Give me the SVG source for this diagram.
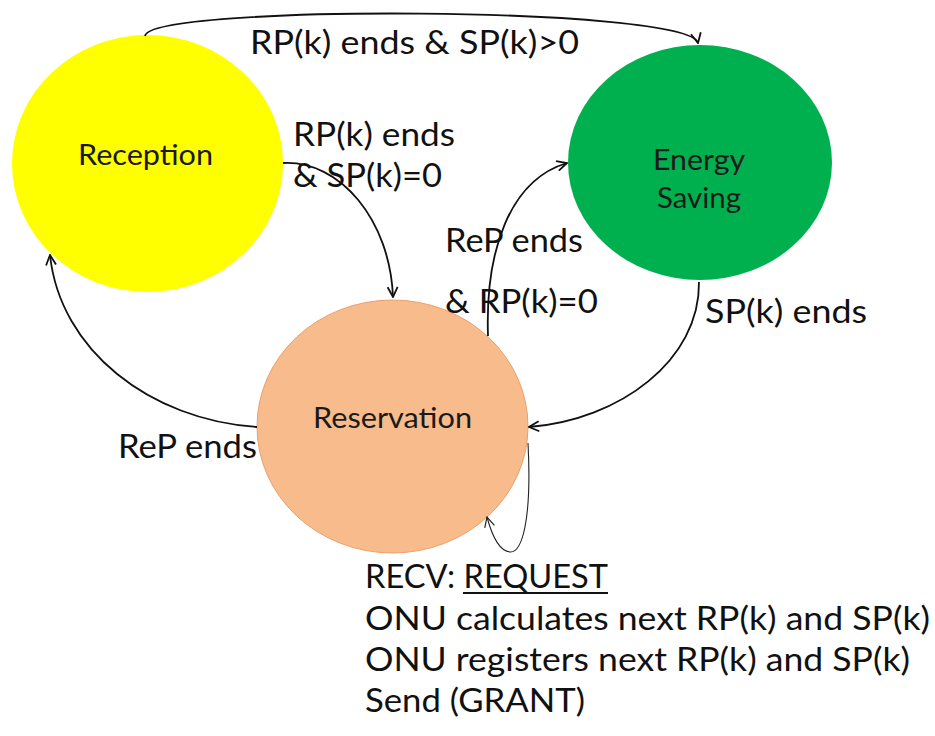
<svg xmlns="http://www.w3.org/2000/svg" width="935" height="736" viewBox="0 0 935 736">
<style>
.lbl{font-family:Lato,"Liberation Sans",sans-serif;font-size:32px;fill:#111}
.node{font-family:Lato,"Liberation Sans",sans-serif;font-size:29px;fill:#1a1a1a;text-anchor:middle}
.edge{fill:none;stroke:#111;stroke-width:1.8}
.thin{fill:none;stroke:#222;stroke-width:1.1}
</style>
<defs>
<marker id="arr" viewBox="0 0 12 12" refX="11" refY="6" markerWidth="12" markerHeight="12" markerUnits="userSpaceOnUse" orient="auto">
<path d="M1,1 L11,6 L1,11" fill="none" stroke="#111" stroke-width="1.8"/>
</marker>
<marker id="arrs" viewBox="0 0 12 12" refX="11" refY="6" markerWidth="12" markerHeight="12" markerUnits="userSpaceOnUse" orient="auto">
<path d="M1,1 L11,6 L1,11" fill="none" stroke="#222" stroke-width="1.2"/>
</marker>
</defs>
<rect width="935" height="736" fill="#fff"/>
<g id="reception">
<ellipse cx="147.5" cy="163.5" rx="135.5" ry="128.5" fill="#FFFF00"/>
<text class="node" x="145.5" y="165" textLength="135" lengthAdjust="spacingAndGlyphs">Reception</text>
</g>
<g id="energy-saving">
<ellipse cx="700" cy="162.5" rx="132" ry="117.5" fill="#00B04F"/>
<text class="node" x="699" y="170" textLength="92" lengthAdjust="spacingAndGlyphs">Energy</text>
<text class="node" x="699" y="208" textLength="84" lengthAdjust="spacingAndGlyphs">Saving</text>
</g>
<g id="reservation">
<ellipse cx="392.5" cy="426.5" rx="135.5" ry="126.5" fill="#F8BB8C" stroke="#E9A06C" stroke-width="1"/>
<text class="node" x="392.5" y="428" textLength="159" lengthAdjust="spacingAndGlyphs">Reservation</text>
</g>
<g id="connectors">
<path class="edge" d="M145,36 C150,4 690,6 698,43" marker-end="url(#arr)"/>
<path class="edge" d="M283,163 C340,160 390,220 393,297" marker-end="url(#arr)"/>
<path class="edge" d="M488,336 C485,250 510,180 567,163" marker-end="url(#arr)"/>
<path class="edge" d="M699,282 C700,360 620,420 529,427" marker-end="url(#arr)"/>
<path class="edge" d="M257,427 C150,420 60,350 50,255" marker-end="url(#arr)"/>
<path class="thin" d="M528,443 C532,520 522,553 510,552 C498,551 491,532 487,517" marker-end="url(#arrs)"/>
</g>
<g id="labels">
<text class="lbl" x="250" y="54" textLength="329" lengthAdjust="spacingAndGlyphs">RP(k) ends &amp; SP(k)&gt;0</text>
<text class="lbl" x="293" y="146" textLength="162" lengthAdjust="spacingAndGlyphs">RP(k) ends</text>
<text class="lbl" x="293" y="187" textLength="149" lengthAdjust="spacingAndGlyphs">&amp; SP(k)=0</text>
<text class="lbl" x="445" y="252" textLength="138" lengthAdjust="spacingAndGlyphs">ReP ends</text>
<text class="lbl" x="445" y="313" textLength="153" lengthAdjust="spacingAndGlyphs">&amp; RP(k)=0</text>
<text class="lbl" x="705" y="323" textLength="162" lengthAdjust="spacingAndGlyphs">SP(k) ends</text>
<text class="lbl" x="118" y="458" textLength="139" lengthAdjust="spacingAndGlyphs">ReP ends</text>
<text class="lbl" x="365" y="588" textLength="243" lengthAdjust="spacingAndGlyphs">RECV: REQUEST</text>
<line x1="463" y1="593" x2="608" y2="593" stroke="#111" stroke-width="1.8"/>
<text class="lbl" x="365" y="630" textLength="565" lengthAdjust="spacingAndGlyphs">ONU calculates next RP(k) and SP(k)</text>
<text class="lbl" x="365" y="671" textLength="545" lengthAdjust="spacingAndGlyphs">ONU registers next RP(k) and SP(k)</text>
<text class="lbl" x="365" y="712" textLength="220" lengthAdjust="spacingAndGlyphs">Send (GRANT)</text>
</g>
</svg>
